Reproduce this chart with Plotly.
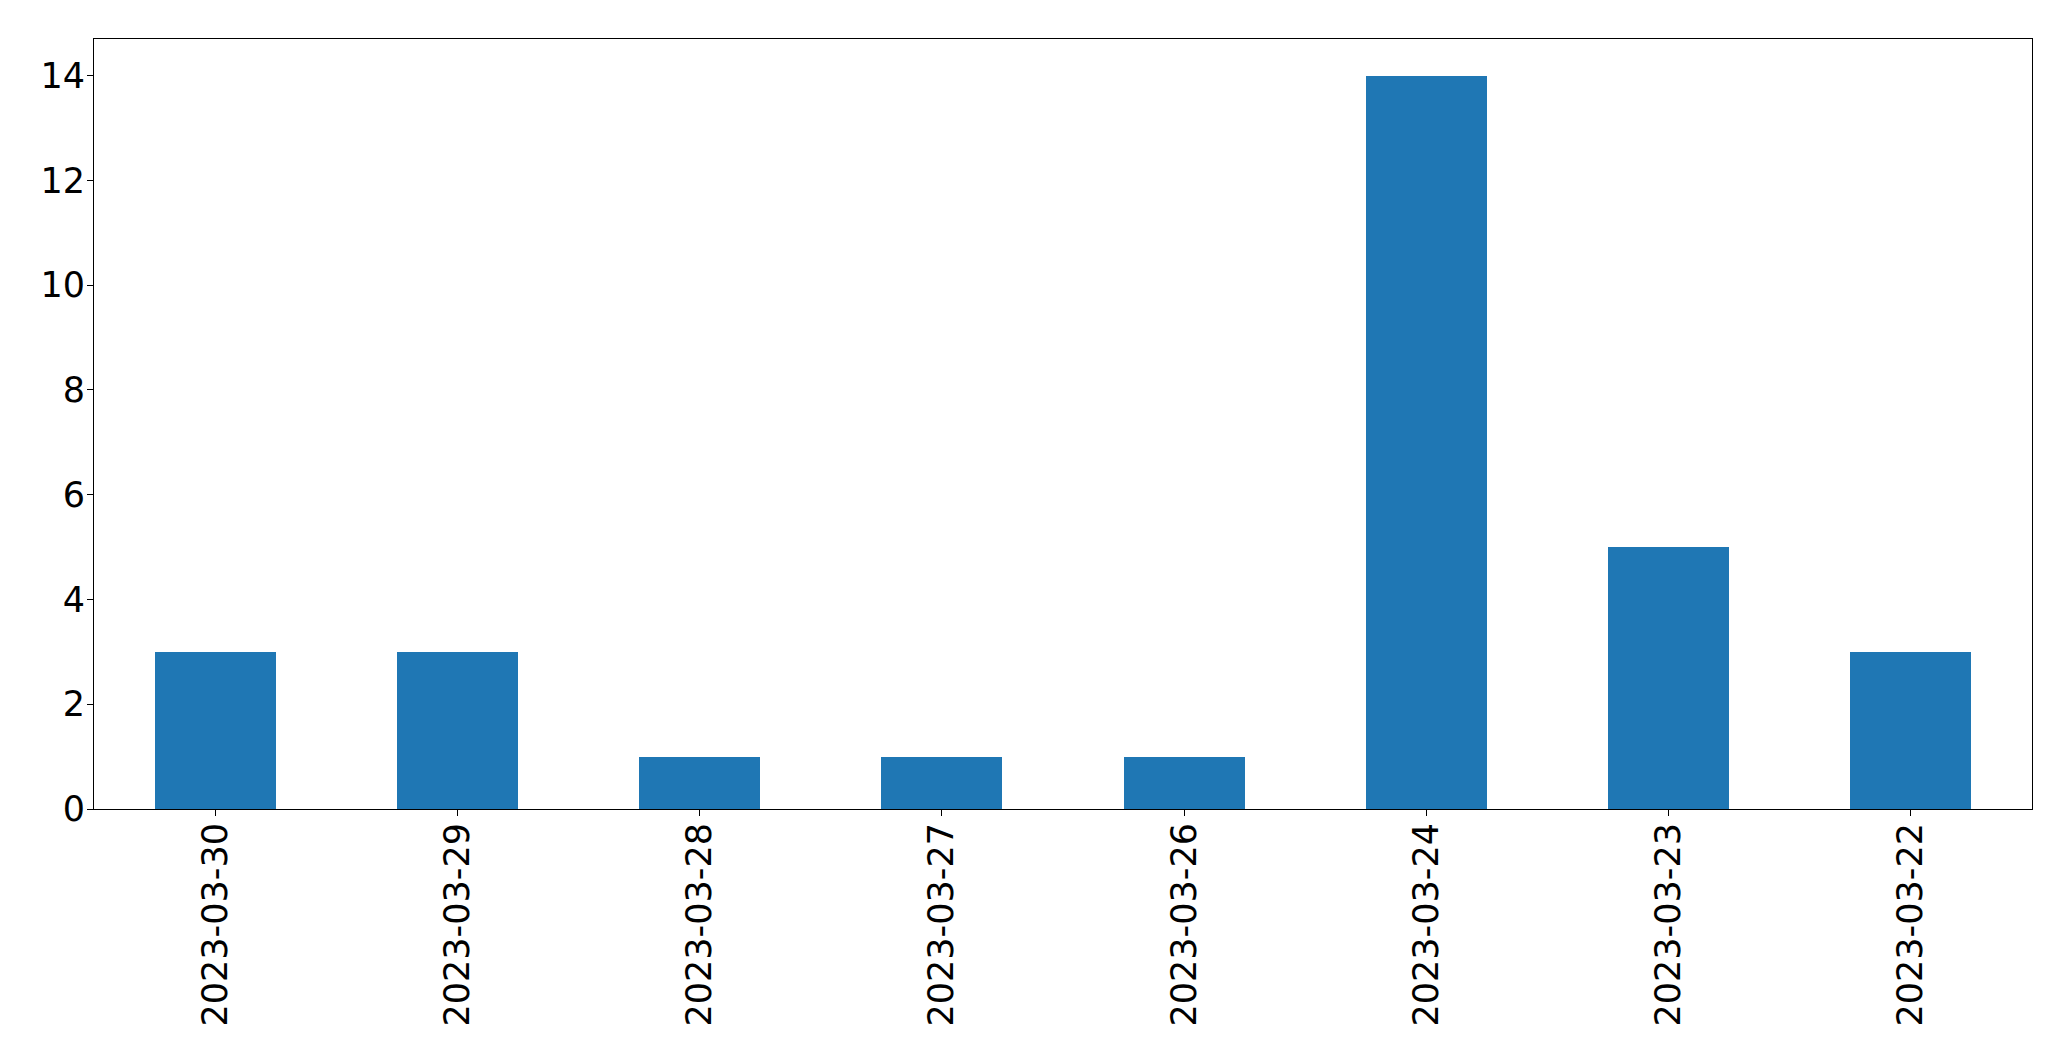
import plotly.graph_objects as go

dates = ["2023-03-30", "2023-03-29", "2023-03-28", "2023-03-27",
         "2023-03-26", "2023-03-24", "2023-03-23", "2023-03-22"]
counts = [3, 3, 1, 1, 1, 14, 5, 3]
y_ticks = [0, 2, 4, 6, 8, 10, 12, 14]

fig = go.Figure(go.Bar(x=dates, y=counts, width=0.5, marker_color="#1f77b4",
                       marker_line_width=0))

fig.update_layout(
    width=2063, height=1053,
    margin=dict(l=86, r=39, t=31, b=252, autoexpand=False),
    paper_bgcolor="white", plot_bgcolor="white",
    font=dict(family="DejaVu Sans", size=35, color="black"),
    showlegend=False,
    bargap=0,
)
fig.update_xaxes(type="category", range=[-0.5, 7.5], tickangle=-90,
                 showline=True, mirror=True, linecolor="black", linewidth=1.1,
                 ticks="outside", ticklen=6, tickwidth=1.1, tickcolor="black",
                 showgrid=False, zeroline=False, ticklabelstandoff=-7)
fig.update_yaxes(range=[0, 14.7], tickvals=y_ticks,
                 showline=True, mirror=True, linecolor="black", linewidth=1.1,
                 ticks="outside", ticklen=6, tickwidth=1.1, tickcolor="black",
                 showgrid=False, zeroline=False, ticklabelstandoff=-5)

fig.write_html("out.html")
